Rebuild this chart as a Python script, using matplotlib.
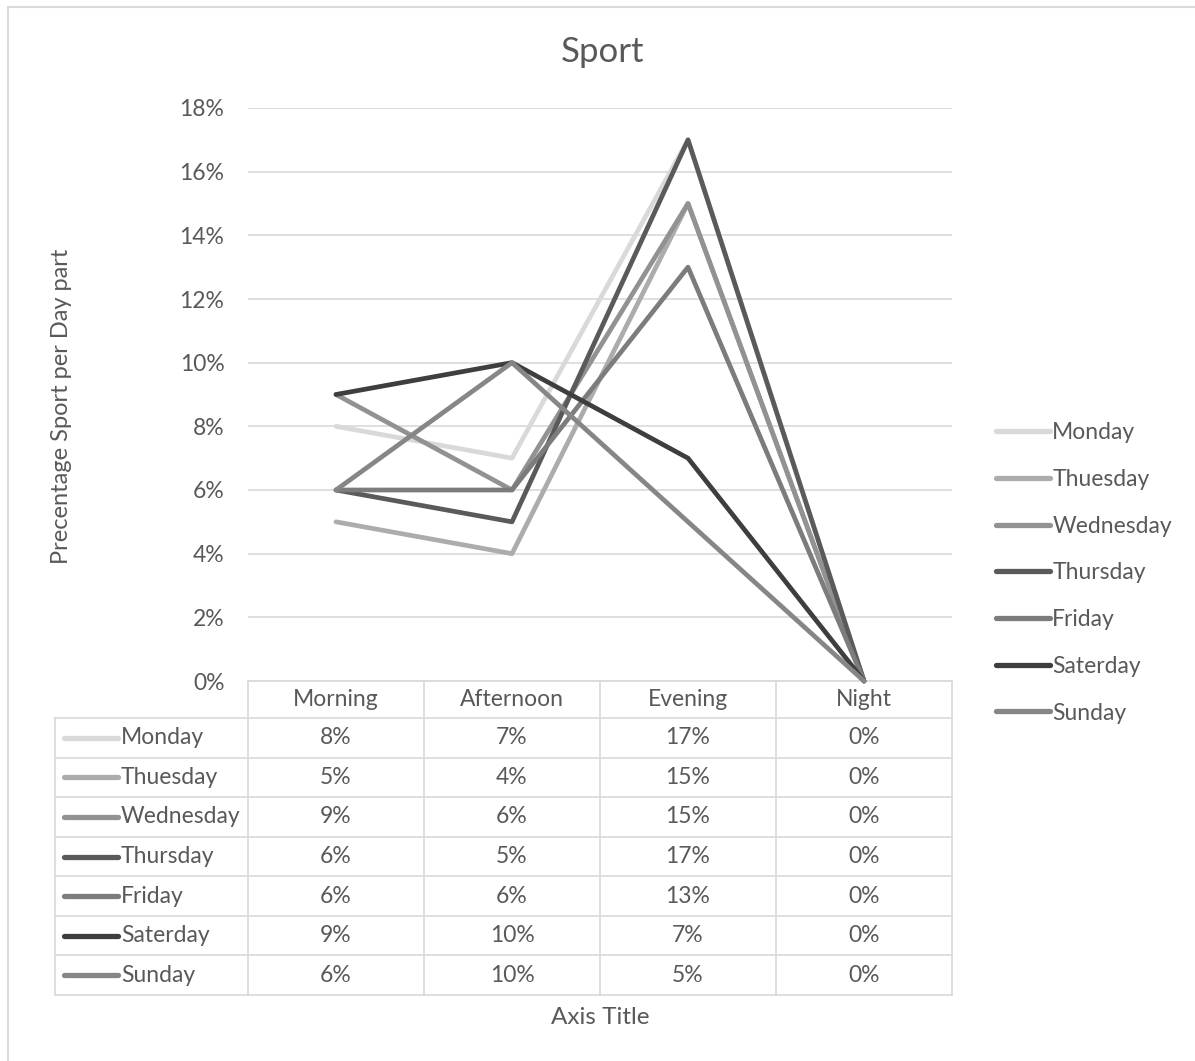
import matplotlib
matplotlib.use('Agg')
import matplotlib.pyplot as plt
from matplotlib.patches import Rectangle
from matplotlib.ticker import MultipleLocator, FuncFormatter

plt.rcParams['font.family'] = ['Lato', 'DejaVu Sans']

# Share of sport per part of the day, in percent
dayparts = ['Morning', 'Afternoon', 'Evening', 'Night']
days = ['Monday', 'Thuesday', 'Wednesday', 'Thursday', 'Friday', 'Saterday', 'Sunday']
monday = [8, 7, 17, 0]
thuesday = [5, 4, 15, 0]
wednesday = [9, 6, 15, 0]
thursday = [6, 5, 17, 0]
friday = [6, 6, 13, 0]
saterday = [9, 10, 7, 0]
sunday = [6, 10, 5, 0]
series = [monday, thuesday, wednesday, thursday, friday, saterday, sunday]

colors = ['#d9d9d9', '#acacac', '#929292', '#5a5a5a', '#7c7c7c', '#3e3e3e', '#868686']
text_c = '#595959'
grid_c = '#d9d9d9'
fs = 16.5

W, H = 1195, 1061
fig = plt.figure(figsize=(W / 100, H / 100), dpi=100)

# plot area in pixels: x 248..952, y 108..681
L, R, T, B = 248, 952, 108, 681
ax = fig.add_axes([L / W, 1 - B / H, (R - L) / W, (B - T) / H])

# outer chart frame
fig.patches.append(Rectangle((8 / W, -0.1), 1.2, 1 - 7 / H + 0.1, transform=fig.transFigure,
                             fill=False, edgecolor=grid_c, lw=1.5))

xs = list(range(len(dayparts)))
for name, vals, c in zip(days, series, colors):
    ax.plot(xs, vals, color=c, lw=3.4, label=name, solid_joinstyle='round',
            solid_capstyle='round', clip_on=False, zorder=3)

ax.set_xlim(-0.5, len(dayparts) - 0.5)
ax.set_ylim(0, 18)
ax.yaxis.set_major_locator(MultipleLocator(2))
ax.yaxis.set_major_formatter(FuncFormatter(lambda v, p: f'{v:.0f}%'))
ax.tick_params(axis='y', length=0, pad=17, labelsize=fs, labelcolor=text_c)
ax.set_xticks([])
for s in ax.spines.values():
    s.set_visible(False)
ax.grid(axis='y', color=grid_c, lw=1.2)
ax.set_axisbelow(True)

fig.text(603 / W, 1 - 52 / H, 'Sport', ha='center', va='center', fontsize=25, color=text_c)
fig.text(62 / W, 1 - 406 / H, 'Precentage Sport per Day part', rotation=90,
         ha='center', va='center', fontsize=17, color=text_c)
fig.text(600 / W, 1 - 1018 / H, 'Axis Title', ha='center', va='center',
         fontsize=17.5, color=text_c)


# data table under the plot, x in data units, y in axes fraction
def px_x(px):
    return -0.5 + (px - L) / (R - L) * len(dayparts)


def px_y(py):
    return (B - py) / (B - T)


trans = ax.get_xaxis_transform()
head_bot = 718
row_h = (995 - 718) / len(days)
tab_left = px_x(55)
table_bot = head_bot + row_h * len(days)

kw = dict(transform=trans, clip_on=False, color=grid_c, lw=1.2)
ax.plot([-0.5, len(dayparts) - 0.5], [px_y(B)] * 2, **kw)
for i in range(len(days) + 1):
    yy = px_y(head_bot + i * row_h)
    ax.plot([tab_left, len(dayparts) - 0.5], [yy, yy], **kw)
for k in range(len(dayparts) + 1):
    ax.plot([k - 0.5, k - 0.5], [px_y(B), px_y(table_bot)], **kw)
ax.plot([tab_left, tab_left], [px_y(head_bot), px_y(table_bot)], **kw)

for k, name in enumerate(dayparts):
    ax.text(k, px_y((B + head_bot) / 2), name, transform=trans, ha='center', va='center',
            fontsize=fs, color=text_c)

for i, (name, vals, c) in enumerate(zip(days, series, colors)):
    yc = px_y(head_bot + (i + 0.5) * row_h)
    ax.plot([px_x(64), px_x(118)], [yc, yc], transform=trans, clip_on=False,
            color=c, lw=3.8, solid_capstyle='round')
    ax.text(px_x(121), yc, name, transform=trans, ha='left', va='center',
            fontsize=fs, color=text_c)
    for k, v in enumerate(vals):
        ax.text(k, yc, f'{v}%', transform=trans, ha='center', va='center',
                fontsize=fs, color=text_c)

leg = ax.legend(loc='center left', bbox_to_anchor=(987 / W, 1 - 573 / H),
                bbox_transform=fig.transFigure, frameon=False, fontsize=fs,
                labelcolor=text_c, handlelength=2.35, handletextpad=0.1,
                labelspacing=1.12, borderaxespad=0)
for h in leg.get_lines():
    h.set_linewidth(3.8)

fig.savefig('out.png', dpi=100, facecolor='white')
